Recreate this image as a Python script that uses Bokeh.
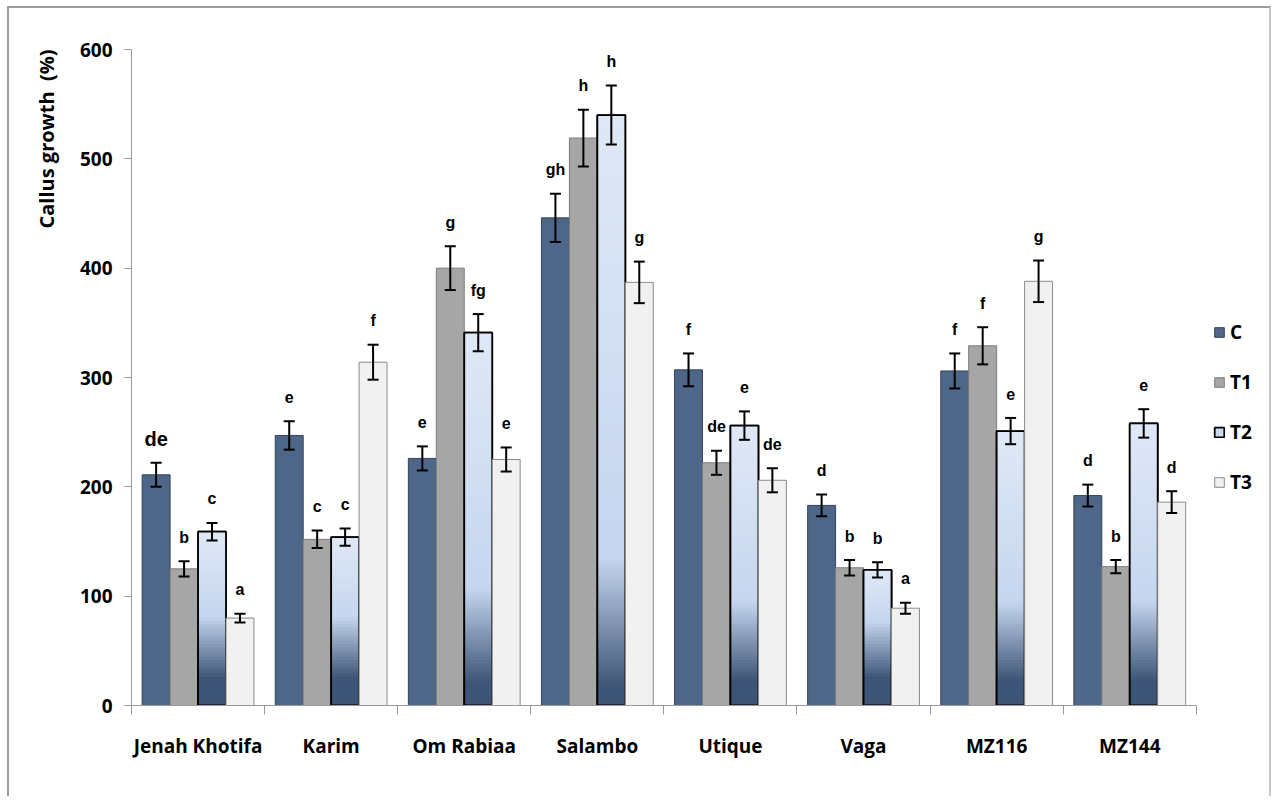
import math
from bokeh.plotting import figure
from bokeh.models import (Range1d, FixedTicker, Whisker, TeeHead, ColumnDataSource,
                          Title, Legend, LegendItem)
from bokeh.core.properties import value
from bokeh.embed import file_html
from bokeh.resources import INLINE

categories = ["Jenah Khotifa", "Karim", "Om Rabiaa", "Salambo", "Utique", "Vaga", "MZ116", "MZ144"]
series = ["C", "T1", "T2", "T3"]

C = [211, 247, 226, 446, 307, 183, 306, 192]
C_err = [11, 13, 11, 22, 15, 10, 16, 10]
T1 = [125, 152, 400, 519, 222, 126, 329, 127]
T1_err = [7, 8, 20, 26, 11, 7, 17, 6]
T2 = [159, 154, 341, 540, 256, 124, 251, 258]
T2_err = [8, 8, 17, 27, 13, 7, 12, 13]
T3 = [80, 314, 225, 387, 206, 89, 388, 186]
T3_err = [4, 16, 11, 19, 11, 5, 19, 10]

C_sig = ["de", "e", "e", "gh", "f", "d", "f", "d"]
T1_sig = ["b", "c", "g", "h", "de", "b", "f", "b"]
T2_sig = ["c", "c", "fg", "h", "e", "b", "e", "e"]
T3_sig = ["a", "f", "e", "g", "de", "a", "g", "d"]

y_ticks = [0, 100, 200, 300, 400, 500, 600]

values = [C, T1, T2, T3]
errors = [C_err, T1_err, T2_err, T3_err]
sigs = [C_sig, T1_sig, T2_sig, T3_sig]

offsets = [-0.315, -0.105, 0.105, 0.315]
bar_w = 0.21
fills = ["#4e6687", "#a6a6a6", "#cbd9ef", "#f1f1f1"]
lines = ["#33445c", "#7d7d7d", "#000000", "#8a8a8a"]
line_ws = [1, 1, 1.8, 1]

n = len(categories)
# frame extends past the last category to leave room for the legend on the right
p = figure(width=1264, height=790, output_backend="svg", toolbar_location=None,
           x_range=Range1d(0, n + 0.55), y_range=Range1d(0, 600),
           min_border_left=122, min_border_right=4, min_border_top=41, min_border_bottom=93)
p.styles = {"border-top": "2px solid #9c9c9c", "border-left": "2px solid #9c9c9c",
            "border-right": "2px solid #c8c8c8", "margin-left": "7px", "margin-top": "6px"}
p.outline_line_color = None
p.xgrid.visible = False
p.ygrid.visible = False
p.background_fill_color = "white"
p.border_fill_color = "white"

# x axis: labels at category centres, tick marks at category boundaries
centers = [i + 0.5 for i in range(n)]
bounds = [i for i in range(n + 1)]
p.xaxis.bounds = (0, n)
p.xaxis.ticker = FixedTicker(ticks=centers, minor_ticks=bounds)
p.xaxis.major_label_overrides = {c: name for c, name in zip(centers, categories)}
p.xaxis.major_tick_line_color = None
p.xaxis.major_tick_out = 0
p.xaxis.major_tick_in = 0
p.xaxis.minor_tick_line_color = "#9a9a9a"
p.xaxis.minor_tick_out = 9
p.xaxis.minor_tick_in = 0
p.xaxis.axis_line_color = "#9a9a9a"
p.xaxis.major_label_standoff = 18
p.xaxis.major_label_text_font = "Open Sans"
p.xaxis.major_label_text_font_style = "bold"
p.xaxis.major_label_text_font_size = "19px"
p.xaxis.major_label_text_color = "black"

p.yaxis.ticker = FixedTicker(ticks=y_ticks, minor_ticks=[])
p.yaxis.axis_line_color = "#9a9a9a"
p.yaxis.major_tick_line_color = "#9a9a9a"
p.yaxis.major_tick_out = 7
p.yaxis.major_tick_in = 0
p.yaxis.minor_tick_line_color = None
p.yaxis.major_label_standoff = 12
p.yaxis.major_label_text_font = "Open Sans"
p.yaxis.major_label_text_font_style = "bold"
p.yaxis.major_label_text_font_size = "19px"
p.yaxis.major_label_text_color = "black"


def lerp(c1, c2, t):
    t = max(0.0, min(1.0, t))
    return "#%02x%02x%02x" % tuple(int(round(a + (b - a) * t)) for a, b in zip(c1, c2))


DARK = (0x3d, 0x55, 0x76)
MID = (0xc6, 0xd6, 0xef)
TOP = (0xdf, 0xe8, 0xf6)


def t2_color(v, total):
    light_start = 60 + 0.14 * total
    dark_end = 28 - 0.02 * total
    if v < dark_end:
        return lerp(DARK, DARK, 0)
    if v < light_start:
        return lerp(DARK, MID, (v - dark_end) / (light_start - dark_end))
    return lerp(MID, TOP, (v - light_start) / max(1.0, total - light_start))


renderers = []
for k, s in enumerate(series):
    xs = [c + offsets[k] for c in centers]
    src = ColumnDataSource(dict(x=xs, top=values[k]))
    r = p.vbar(x="x", top="top", width=bar_w, bottom=0, source=src,
               fill_color=fills[k], line_color=lines[k], line_width=line_ws[k])
    renderers.append(r)
    if s == "T2":
        sx, sb, st, sc = [], [], [], []
        step = 3.0
        for x, v in zip(xs, values[k]):
            lo = 0.0
            while lo < v:
                hi = min(lo + step, v)
                sx.append(x)
                sb.append(lo)
                st.append(hi)
                sc.append(t2_color((lo + hi) / 2, v))
                lo = hi
        gsrc = ColumnDataSource(dict(x=sx, b=sb, t=st, c=sc))
        p.vbar(x="x", bottom="b", top="t", width=bar_w, source=gsrc,
               fill_color="c", line_color="c", line_width=1)
        p.vbar(x="x", top="top", width=bar_w, bottom=0, source=src,
               fill_color=None, line_color="#000000", line_width=1.8)

# error bars and significance letters
for k, s in enumerate(series):
    xs = [c + offsets[k] for c in centers]
    up = [v + e for v, e in zip(values[k], errors[k])]
    lo = [v - e for v, e in zip(values[k], errors[k])]
    esrc = ColumnDataSource(dict(base=xs, upper=up, lower=lo))
    w = Whisker(base="base", upper="upper", lower="lower", source=esrc,
                line_color="black", line_width=2, level="overlay",
                upper_head=TeeHead(size=11, line_width=2, line_color="black"),
                lower_head=TeeHead(size=11, line_width=2, line_color="black"))
    p.add_layout(w)
    sizes = ["20px" if (k == 0 and i == 0) else "16px" for i in range(n)]
    tsrc = ColumnDataSource(dict(x=xs, y=up, t=sigs[k], fs=sizes))
    p.text(x="x", y="y", text="t", source=tsrc, text_align="center",
           text_baseline="alphabetic", y_offset=-24, text_font=value("Liberation Sans"),
           text_font_style="bold", text_font_size="fs", text_color="black")

# y axis title near the top, left of the axis
ytitle = Title(text="Callus growth\u00a0 (%)", align="right", offset=0, standoff=33,
               text_font="Open Sans", text_font_style="bold", text_font_size="20px",
               text_color="black")
p.add_layout(ytitle, "left")

legend = Legend(items=[LegendItem(label=s, renderers=[renderers[k]]) for k, s in enumerate(series)],
                location=(1082, 210), orientation="vertical",
                glyph_width=12, glyph_height=12, label_height=20, spacing=24,
                label_standoff=5, padding=0, margin=0, border_line_color=None,
                background_fill_alpha=0, label_text_font="Open Sans",
                label_text_font_style="bold", label_text_font_size="19px",
                label_text_color="black")
p.add_layout(legend)

open("out.html", "w").write(file_html(p, INLINE))
